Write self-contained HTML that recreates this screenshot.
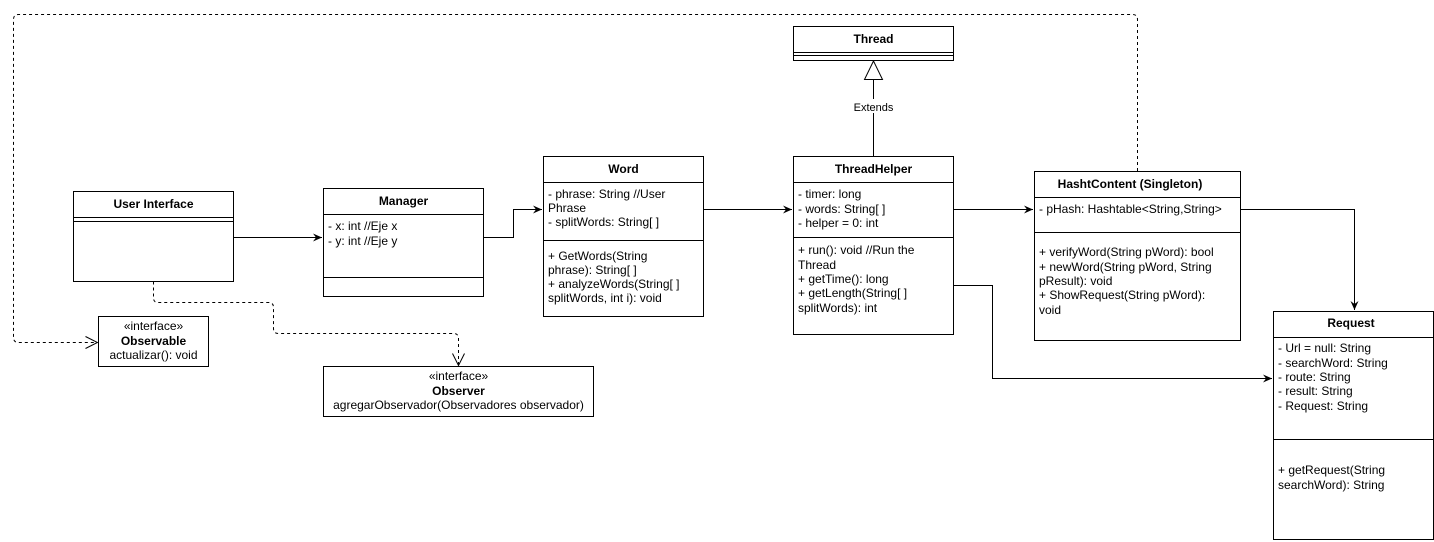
<!DOCTYPE html>
<html><head><meta charset="utf-8"><style>
html,body{margin:0;padding:0;background:#fff;}
svg{display:block;}
text{font-family:"Liberation Sans",Arial,sans-serif;font-size:12px;fill:#000;}
.b{font-weight:bold;}
</style></head><body>
<svg width="1434" height="542" viewBox="0 0 1434 542" xmlns="http://www.w3.org/2000/svg">
<defs>
<marker id="a" markerWidth="10" markerHeight="10" refX="9" refY="5" orient="auto" markerUnits="userSpaceOnUse">
<path d="M0,1 L9,5 L0,9 L3,5 Z" fill="#000"/></marker>
<marker id="o" markerWidth="14" markerHeight="14" refX="13" refY="7" orient="auto" markerUnits="userSpaceOnUse">
<path d="M1,1 L13,7 L1,13" fill="none" stroke="#000"/></marker>
</defs>
<g fill="#fff" stroke="#000" stroke-width="1">
<!-- User Interface -->
<rect x="73.5" y="191.5" width="160" height="90"/>
<line x1="73.5" y1="217.5" x2="233.5" y2="217.5"/><line x1="73.5" y1="221.5" x2="233.5" y2="221.5"/>
<!-- Manager -->
<rect x="323.5" y="188.5" width="160" height="108"/>
<line x1="323.5" y1="214.5" x2="483.5" y2="214.5"/><line x1="323.5" y1="277.5" x2="483.5" y2="277.5"/>
<!-- Word -->
<rect x="543.5" y="156.5" width="160" height="160"/>
<line x1="543.5" y1="182.5" x2="703.5" y2="182.5"/><line x1="543.5" y1="240.5" x2="703.5" y2="240.5"/>
<!-- Thread -->
<rect x="793.5" y="26.5" width="160" height="34"/>
<line x1="793.5" y1="52.5" x2="953.5" y2="52.5"/><line x1="793.5" y1="55.5" x2="953.5" y2="55.5"/>
<!-- ThreadHelper -->
<rect x="793.5" y="156.5" width="160" height="178"/>
<line x1="793.5" y1="182.5" x2="953.5" y2="182.5"/><line x1="793.5" y1="237.5" x2="953.5" y2="237.5"/>
<!-- HashtContent -->
<rect x="1034.5" y="171.5" width="206" height="169"/>
<line x1="1034.5" y1="197.5" x2="1240.5" y2="197.5"/><line x1="1034.5" y1="232.5" x2="1240.5" y2="232.5"/>
<!-- Request -->
<rect x="1273.5" y="311.5" width="160" height="228"/>
<line x1="1273.5" y1="337.5" x2="1433.5" y2="337.5"/><line x1="1273.5" y1="439.5" x2="1433.5" y2="439.5"/>
<!-- Observable -->
<rect x="98.5" y="316.5" width="110" height="50"/>
<!-- Observer -->
<rect x="323.5" y="366.5" width="270" height="50"/>
</g>
<g fill="none" stroke="#000" stroke-width="1">
<path d="M233.5,237.5 H322" marker-end="url(#a)"/>
<path d="M483.5,237.5 H513.5 V209.5 H542" marker-end="url(#a)"/>
<path d="M703.5,209.5 H792" marker-end="url(#a)"/>
<path d="M953.5,209.5 H1033" marker-end="url(#a)"/>
<path d="M1240.5,209.5 H1354.5 V310" marker-end="url(#a)"/>
<path d="M953.5,285.5 H992.5 V378.5 H1272" marker-end="url(#a)"/>
<path d="M873.5,156.5 V79"/>
<path d="M873.5,61 L864.5,79.5 H882.5 Z" fill="#fff"/>
<path d="M1137.5,171 V19.5 Q1137.5,14.5 1132.5,14.5 H18.5 Q13.5,14.5 13.5,19.5 V337.5 Q13.5,342.5 18.5,342.5 H97.5" stroke-dasharray="3,3" marker-end="url(#o)"/>
<path d="M153.5,281.5 V298 Q153.5,302.5 158,302.5 H268.5 Q273.5,302.5 273.5,307.5 V328.5 Q273.5,333.5 278.5,333.5 H453.5 Q458.5,333.5 458.5,338.5 V365.5" stroke-dasharray="3,3" marker-end="url(#o)"/>
</g>
<rect x="852" y="99" width="44" height="14" fill="#fff"/>
<text x="873.5" y="111" text-anchor="middle" style="font-size:11px">Extends</text>
<g text-anchor="middle" class="b">
<text class="b" x="153.5" y="208">User Interface</text>
<text class="b" x="403.5" y="205">Manager</text>
<text class="b" x="623.5" y="173">Word</text>
<text class="b" x="873.5" y="43">Thread</text>
<text class="b" x="873.5" y="173">ThreadHelper</text>
<text class="b" x="1130" y="188">HashtContent (Singleton)</text>
<text class="b" x="1351" y="327">Request</text>
</g>
<text x="328" y="230">- x: int //Eje x</text>
<text x="328" y="245">- y: int //Eje y</text>
<text x="548" y="198">- phrase: String //User</text>
<text x="548" y="212">Phrase</text>
<text x="548" y="226">- splitWords: String[ ]</text>
<text x="548" y="260">+ GetWords(String</text>
<text x="548" y="274">phrase): String[ ]</text>
<text x="548" y="288">+ analyzeWords(String[ ]</text>
<text x="548" y="302">splitWords, int i): void</text>
<text x="798" y="198">- timer: long</text>
<text x="798" y="213">- words: String[ ]</text>
<text x="798" y="227">- helper = 0: int</text>
<text x="798" y="254">+ run(): void //Run the</text>
<text x="798" y="269">Thread</text>
<text x="798" y="283">+ getTime(): long</text>
<text x="798" y="297">+ getLength(String[ ]</text>
<text x="798" y="312">splitWords): int</text>
<text x="1039" y="213">- pHash: Hashtable&lt;String,String&gt;</text>
<text x="1039" y="256">+ verifyWord(String pWord): bool</text>
<text x="1039" y="271">+ newWord(String pWord, String</text>
<text x="1039" y="285">pResult): void</text>
<text x="1039" y="299">+ ShowRequest(String pWord):</text>
<text x="1039" y="314">void</text>
<text x="1278" y="352">- Url = null: String</text>
<text x="1278" y="367">- searchWord: String</text>
<text x="1278" y="381">- route: String</text>
<text x="1278" y="395">- result: String</text>
<text x="1278" y="410">- Request: String</text>
<text x="1278" y="474">+ getRequest(String</text>
<text x="1278" y="489">searchWord): String</text>
<text x="153.5" y="330" text-anchor="middle">«interface»</text>
<text x="153.5" y="345" text-anchor="middle" class="b">Observable</text>
<text x="153.5" y="359" text-anchor="middle">actualizar(): void</text>
<text x="458.5" y="380" text-anchor="middle">«interface»</text>
<text x="458.5" y="395" text-anchor="middle" class="b">Observer</text>
<text x="458.5" y="409" text-anchor="middle">agregarObservador(Observadores observador)</text>
</svg>
</body></html>
